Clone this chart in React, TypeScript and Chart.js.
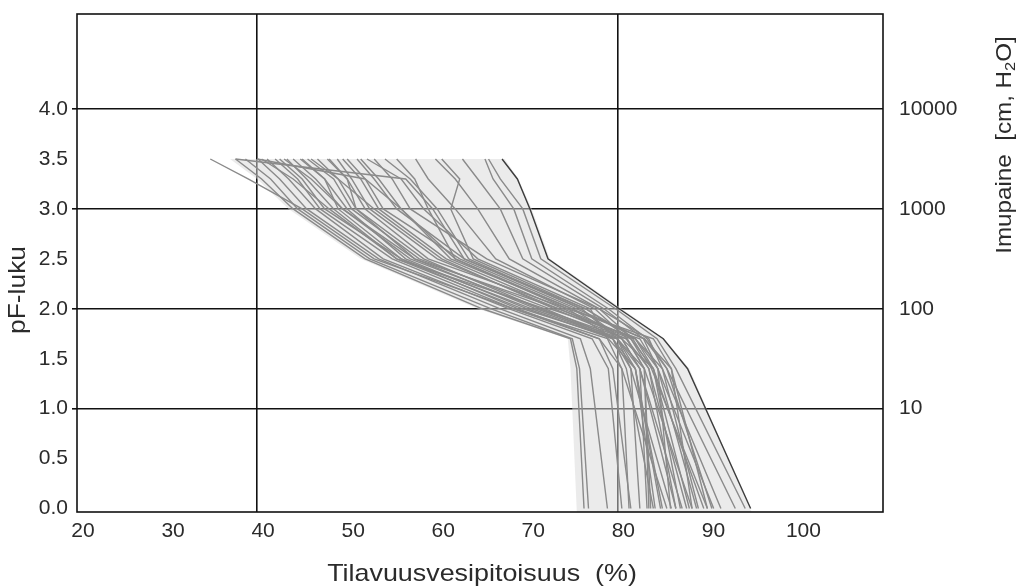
import React, { useEffect, useRef } from 'react';
import { Chart, registerables } from 'chart.js';

Chart.register(...registerables);

// pF levels at which each retention curve was measured (top to bottom)
const PF_LEVELS = [3.5, 3.3, 3.0, 2.5, 2.0, 1.7, 1.4, 0];

// volumetric water content (%) of each sample at the pF levels above
const CURVES: number[][] = [
  [65.7, 67.0, 69.5, 71.5, 79.8, 84.4, 86.5, 94.2],
  [65.3, 66.2, 68.5, 70.5, 79.0, 83.3, 85.5, 93.1],
  [62.8, 64.5, 67.0, 69.5, 78.5, 82.9, 84.5, 90.7],
  [59.8, 62.0, 64.5, 68.0, 78.0, 81.7, 83.8, 90.0],
  [57.6, 59.0, 62.0, 66.5, 77.5, 81.1, 83.0, 88.3],
  [54.2, 57.0, 60.0, 63.5, 76.0, 80.0, 81.5, 86.0],
  [52.2, 56.0, 58.5, 64.5, 77.0, 78.9, 80.5, 85.5],
  [51.1, 53.0, 55.5, 63.0, 76.5, 82.0, 84.0, 89.6],
  [50.0, 52.0, 54.0, 62.5, 75.5, 83.0, 85.5, 90.5],
  [48.9, 50.5, 52.5, 60.0, 73.5, 81.5, 83.5, 87.7],
  [47.8, 50.0, 52.0, 59.0, 74.5, 84.0, 86.0, 88.3],
  [46.7, 49.0, 51.0, 57.5, 71.0, 80.5, 84.0, 87.0],
  [45.6, 48.5, 50.5, 58.0, 72.5, 82.5, 84.5, 85.9],
  [44.8, 47.5, 50.0, 56.5, 70.0, 79.5, 82.0, 84.2],
  [44.0, 46.5, 49.5, 57.0, 71.5, 81.0, 83.0, 83.7],
  [43.3, 45.5, 48.5, 55.5, 69.5, 80.0, 82.5, 83.3],
  [42.0, 44.5, 47.0, 55.0, 68.5, 78.0, 80.5, 81.3],
  [41.1, 43.5, 46.5, 54.0, 68.0, 77.2, 79.0, 80.5],
  [40.1, 42.5, 45.5, 53.5, 67.0, 75.9, 77.0, 78.9],
  [38.7, 41.5, 44.5, 52.5, 66.0, 75.0, 75.8, 76.8],
  [37.6, 40.5, 44.0, 52.0, 65.0, 74.8, 75.5, 76.3],
  [34.8, 39.0, 45.0, 53.0, 68.5, 79.0, 82.0, 85.0],
  [55.5, 57.5, 59.0, 62.0, 75.0, 80.5, 82.5, 87.2],
  [53.0, 55.0, 57.0, 65.5, 78.0, 83.5, 85.0, 89.0],
  [49.5, 51.5, 53.5, 61.0, 74.0, 82.0, 84.5, 88.8],
  [46.0, 49.0, 53.0, 60.5, 73.0, 81.0, 83.5, 86.5],
  [42.5, 45.0, 47.5, 56.0, 70.5, 80.0, 82.0, 84.8],
  [40.5, 44.0, 48.0, 55.5, 72.0, 80.0, 83.0, 83.5],
  [60.5, 62.5, 61.5, 64.0, 76.5, 81.5, 84.0, 88.0],
  [48.0, 50.0, 51.0, 58.5, 71.5, 79.5, 81.5, 82.5],
  [45.0, 47.5, 49.0, 56.0, 69.0, 78.0, 79.5, 81.5],
  [43.0, 46.0, 49.5, 57.5, 73.5, 82.0, 85.0, 91.5],
  [51.5, 53.5, 56.0, 61.5, 75.0, 83.0, 86.0, 90.0],
  [37.6, 56.5, 59.5, 63.0, 76.0, 80.5, 82.5, 86.5],
  [40.0, 52.0, 56.0, 62.0, 74.5, 79.5, 81.0, 84.0],
  [67.2, 68.9, 70.3, 72.3, 80.2, 85.1, 87.8, 94.8],
];
// the last curve is drawn darker
const DARK_CURVE = CURVES.length - 1;

// shaded envelope of the data
const ENV_PF = [3.5, 3.3, 3.0, 2.5, 2.0, 1.7, 1.4, -0.035];
const ENV_LEFT = [37.0, 40.0, 43.5, 51.5, 64.5, 74.5, 74.8, 75.5];
const ENV_RIGHT = [67.5, 69.0, 70.5, 72.5, 80.5, 85.2, 88.0, 94.9];

const X_TICKS = [20, 30, 40, 50, 60, 70, 80, 90, 100];
const X_GRID = [40, 80];
const Y_TICKS = [0, 0.5, 1, 1.5, 2, 2.5, 3, 3.5, 4];
const Y_GRID = [1, 2, 3, 4];
const Y2_TICKS = [1, 2, 3, 4];
const Y2_LABELS = ['10', '100', '1000', '10000'];

const X_TITLE = 'Tilavuusvesipitoisuus  (%)';
const Y_TITLE = 'pF-luku';
const Y2_TITLE_PARTS = ['Imupaine  [cm, H', '2', 'O]'];

const FONT = "'Liberation Sans', Arial, sans-serif";
const TEXT = '#2b2b2b';

const decorPlugin = {
  id: 'decor',
  beforeDatasetsDraw(chart: any) {
    const { ctx, scales } = chart;
    const x = scales.x;
    const y = scales.y;
    ctx.save();
    ctx.beginPath();
    ENV_PF.forEach((p, i) => {
      const px = x.getPixelForValue(ENV_LEFT[i]);
      const py = y.getPixelForValue(p);
      if (i === 0) ctx.moveTo(px, py);
      else ctx.lineTo(px, py);
    });
    for (let i = ENV_PF.length - 1; i >= 0; i--) {
      ctx.lineTo(x.getPixelForValue(ENV_RIGHT[i]), y.getPixelForValue(ENV_PF[i]));
    }
    ctx.closePath();
    ctx.fillStyle = 'rgba(215,215,215,0.5)';
    ctx.fill();
    ctx.restore();
  },
  afterDatasetsDraw(chart: any) {
    const { ctx, chartArea: a } = chart;
    ctx.save();
    ctx.strokeStyle = '#111';
    ctx.lineWidth = 1.6;
    ctx.strokeRect(a.left, a.top, a.right - a.left, a.bottom - a.top);
    ctx.restore();
  },
  afterDraw(chart: any) {
    const { ctx, chartArea: a } = chart;
    ctx.save();
    ctx.fillStyle = TEXT;
    ctx.textBaseline = 'middle';
    ctx.textAlign = 'center';
    ctx.font = `24px ${FONT}`;
    // x title
    ctx.save();
    ctx.translate((a.left + a.right) / 2 + 2, 574);
    ctx.scale(1.12, 1);
    ctx.fillText(X_TITLE, 0, 0);
    ctx.restore();
    // left y title
    ctx.save();
    ctx.translate(18, 290);
    ctx.rotate(-Math.PI / 2);
    ctx.scale(1.1, 1);
    ctx.fillText(Y_TITLE, 0, 0);
    ctx.restore();
    // right y title with subscript
    ctx.save();
    ctx.translate(1005, 145);
    ctx.rotate(-Math.PI / 2);
    ctx.scale(1.1, 1);
    const big = `22px ${FONT}`;
    const small = `15px ${FONT}`;
    ctx.font = big;
    const w1 = ctx.measureText(Y2_TITLE_PARTS[0]).width;
    const w3 = ctx.measureText(Y2_TITLE_PARTS[2]).width;
    ctx.font = small;
    const w2 = ctx.measureText(Y2_TITLE_PARTS[1]).width;
    const total = w1 + w2 + w3;
    let cx = -total / 2;
    ctx.textAlign = 'left';
    ctx.font = big;
    ctx.fillText(Y2_TITLE_PARTS[0], cx, 0);
    cx += w1;
    ctx.font = small;
    ctx.fillText(Y2_TITLE_PARTS[1], cx, 6);
    cx += w2;
    ctx.font = big;
    ctx.fillText(Y2_TITLE_PARTS[2], cx, 0);
    ctx.restore();
    ctx.restore();
  },
};

export default function App() {
  const ref = useRef<HTMLCanvasElement | null>(null);

  useEffect(() => {
    if (!ref.current) return;
    const datasets = CURVES.map((c, i) => ({
      data: c.map((v, j) => ({ x: v, y: PF_LEVELS[j] })),
      borderColor: i === DARK_CURVE ? '#3c3c3c' : '#8a8a8a',
      borderWidth: 1.4,
      pointRadius: 0,
      tension: 0,
      fill: false,
      yAxisID: 'y',
    }));

    const chart = new Chart(ref.current, {
      type: 'line',
      data: { datasets },
      options: {
        animation: false,
        responsive: false,
        events: [],
        layout: { padding: { top: 14, left: 0, right: 0, bottom: 0 } },
        plugins: { legend: { display: false }, tooltip: { enabled: false } },
        scales: {
          x: {
            type: 'linear',
            min: 20,
            max: 109.5,
            afterBuildTicks: (s: any) => {
              s.ticks = X_TICKS.map((v) => ({ value: v }));
            },
            afterFit: (s: any) => {
              s.height = 74;
              s.paddingLeft = 0;
              s.paddingRight = 0;
            },
            border: { display: false },
            grid: {
              drawTicks: false,
              lineWidth: 1.6,
              color: (c: any) =>
                c.tick && X_GRID.includes(c.tick.value) ? '#111' : 'rgba(0,0,0,0)',
            },
            ticks: {
              padding: 7,
              labelOffset: 6,
              maxRotation: 0,
              autoSkip: false,
              color: TEXT,
              font: { family: FONT, size: 21 },
              callback: (v: any) => String(v),
            },
          },
          y: {
            type: 'linear',
            position: 'left',
            min: -0.035,
            max: 4.952,
            afterBuildTicks: (s: any) => {
              s.ticks = Y_TICKS.map((v) => ({ value: v }));
            },
            afterFit: (s: any) => {
              s.width = 77;
              s.paddingTop = 0;
              s.paddingBottom = 0;
            },
            border: { display: false },
            grid: {
              drawTicks: true,
              tickLength: 5,
              lineWidth: 1.6,
              color: (c: any) =>
                c.tick && Y_GRID.includes(c.tick.value) ? '#111' : 'rgba(0,0,0,0)',
            },
            ticks: {
              padding: 4,
              autoSkip: false,
              color: TEXT,
              font: { family: FONT, size: 21 },
              callback: (v: any) => Number(v).toFixed(1),
            },
          },
          y2: {
            type: 'linear',
            position: 'right',
            min: -0.035,
            max: 4.952,
            afterBuildTicks: (s: any) => {
              s.ticks = Y2_TICKS.map((v) => ({ value: v }));
            },
            afterFit: (s: any) => {
              s.width = 138;
              s.paddingTop = 0;
              s.paddingBottom = 0;
            },
            border: { display: false },
            grid: { display: false, drawTicks: false },
            ticks: {
              padding: 16,
              autoSkip: false,
              color: TEXT,
              font: { family: FONT, size: 21 },
              callback: (v: any) => {
                const i = Y2_TICKS.indexOf(Number(v));
                return i >= 0 ? Y2_LABELS[i] : '';
              },
            },
          },
        },
      },
      plugins: [decorPlugin],
    } as any);

    return () => chart.destroy();
  }, []);

  return (
    <canvas
      ref={ref}
      width={1021}
      height={586}
      style={{ position: 'fixed', left: 0, top: 0, display: 'block' }}
    />
  );
}
